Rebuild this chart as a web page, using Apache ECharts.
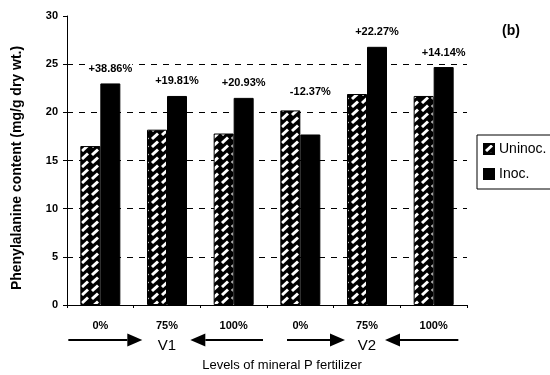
<!DOCTYPE html>
<html>
<head>
<meta charset="utf-8">
<script src="https://cdn.jsdelivr.net/npm/echarts@6/dist/echarts.min.js"></script>
<style>
  html, body { margin: 0; padding: 0; background: #fff; }
  #chart { width: 550px; height: 375px; }
</style>
</head>
<body>
<div id="chart"></div>
<script>
// Fertilizer levels per variety (three per variety)
const categories = ['0%', '75%', '100%', '0%', '75%', '100%'];
const varieties = ['V1', 'V2'];
// Phenylalanine content, mg/g dry wt.
const uninoc = [16.5, 18.2, 17.8, 20.2, 21.9, 21.7];
const inoc = [23.0, 21.7, 21.5, 17.7, 26.8, 24.7];
// Change of inoculated vs. uninoculated
const changeLabels = ['+38.86%', '+19.81%', '+20.93%', '-12.37%', '+22.27%', '+14.14%'];
const yTicks = [0, 5, 10, 15, 20, 25, 30];
const yAxisTitle = 'Phenylalanine content (mg/g dry wt.)';
const xAxisTitle = 'Levels of mineral P fertilizer';

const FONT = 'Liberation Sans, Arial, sans-serif';
const GRID = { left: 67, right: 83, top: 16, bottom: 70 };
const Y_MAX = 30;
const pxPerUnit = (375 - GRID.top - GRID.bottom) / Y_MAX;

// Hatched fill: white slanted dashes on black, staggered in two columns
function makeHatch() {
  const c = document.createElement('canvas');
  c.width = 20; c.height = 8;
  const ctx = c.getContext('2d');
  ctx.fillStyle = '#000';
  ctx.fillRect(0, 0, 20, 8);
  ctx.strokeStyle = '#fff';
  ctx.lineWidth = 3;
  ctx.lineCap = 'butt';
  const seg = (x1, y1, x2, y2) => { ctx.beginPath(); ctx.moveTo(x1, y1); ctx.lineTo(x2, y2); ctx.stroke(); };
  seg(2, 7, 8, 1.5);
  seg(2, 15, 8, 9.5);
  seg(2, -1, 8, -6.5);
  seg(12, 11, 18, 5.5);
  seg(12, 3, 18, -2.5);
  return c;
}
const hatch = { image: makeHatch(), repeat: 'repeat' };

const inocData = inoc.map((v, i) => {
  const item = { value: v };
  if (uninoc[i] > v) {
    // keep the label clear of the taller neighbouring bar
    item.label = { offset: [0, -(uninoc[i] - v) * pxPerUnit - 4] };
  }
  return item;
});

const chart = echarts.init(document.getElementById('chart'), null, { renderer: 'canvas' });

chart.setOption({
  animation: false,
  backgroundColor: '#fff',
  textStyle: { fontFamily: FONT, color: '#000' },
  grid: GRID,
  legend: {
    orient: 'vertical',
    left: 477,
    top: 135,
    icon: 'rect',
    itemWidth: 10,
    itemHeight: 10,
    itemGap: 11,
    padding: [7, 40, 8, 6],
    borderColor: '#000',
    borderWidth: 1,
    textStyle: { fontFamily: FONT, fontSize: 14, color: '#000' },
    data: ['Uninoc.', 'Inoc.']
  },
  xAxis: {
    type: 'category',
    data: categories,
    axisLine: { lineStyle: { color: '#000', width: 1 } },
    axisTick: { show: true, length: 3, lineStyle: { color: '#000' } },
    axisLabel: { margin: 15, fontFamily: FONT, fontSize: 11, fontWeight: 'bold', color: '#000' }
  },
  yAxis: {
    type: 'value',
    min: 0,
    max: Y_MAX,
    interval: 5,
    axisLine: { show: true, lineStyle: { color: '#000', width: 1 } },
    axisTick: { show: true, length: 4, lineStyle: { color: '#000' } },
    axisLabel: {
      margin: 9, fontFamily: FONT, fontSize: 11, fontWeight: 'bold', color: '#000',
      formatter: v => (yTicks.includes(v) ? String(v) : '')
    },
    splitLine: {
      show: true,
      showMinLine: false,
      showMaxLine: false,
      lineStyle: { color: '#000', type: [6, 6], width: 1 }
    }
  },
  series: [
    {
      name: 'Uninoc.',
      type: 'bar',
      data: uninoc,
      barGap: '0%',
      barCategoryGap: '40%',
      itemStyle: { color: hatch, borderColor: '#000', borderWidth: 1 }
    },
    {
      name: 'Inoc.',
      type: 'bar',
      data: inocData,
      itemStyle: { color: '#000', borderColor: '#000', borderWidth: 1 },
      label: {
        show: true,
        position: 'top',
        distance: 9,
        fontFamily: FONT,
        fontSize: 11,
        fontWeight: 'bold',
        color: '#000',
        backgroundColor: '#fff',
        formatter: p => changeLabels[p.dataIndex]
      }
    }
  ]
});

// Titles and variety annotations: arrows pointing at V1 / V2 below the axis
function drawAnnotations() {
  const cx = i => chart.convertToPixel({ xAxisIndex: 0 }, i);
  const w = cx(1) - cx(0);
  const yArrow = 340;
  const arrow = (x1, x2) => {
    const dir = x2 > x1 ? 1 : -1;
    const head = 15;
    return [
      {
        type: 'line',
        shape: { x1: x1, y1: yArrow, x2: x2 - dir * head, y2: yArrow },
        style: { stroke: '#000', lineWidth: 2 }
      },
      {
        type: 'polygon',
        shape: { points: [[x2, yArrow], [x2 - dir * head, yArrow - 6.5], [x2 - dir * head, yArrow + 6.5]] },
        style: { fill: '#000' }
      }
    ];
  };
  const els = [];
  // V1 spans groups 0..2, V2 spans groups 3..5
  [0, 1].forEach(k => {
    const first = k * 3, mid = k * 3 + 1, last = k * 3 + 2;
    const leftStart = k === 0 ? cx(first) - 0.48 * w : cx(first) - 0.2 * w;
    const leftEnd = k === 0 ? cx(mid) - 0.37 * w : cx(mid) - 0.33 * w;
    const rightStart = k === 0 ? cx(last) + 0.44 * w : cx(last) + 0.37 * w;
    const rightEnd = k === 0 ? cx(mid) + 0.35 * w : cx(mid) + 0.27 * w;
    els.push(...arrow(leftStart, leftEnd));
    els.push(...arrow(rightStart, rightEnd));
    els.push({
      type: 'text',
      x: cx(mid),
      y: 346,
      style: { text: varieties[k], fontFamily: FONT, fontSize: 15, fill: '#000', align: 'center', verticalAlign: 'middle' }
    });
  });
  els.push({
    type: 'text',
    x: 282,
    y: 365,
    style: { text: xAxisTitle, fontFamily: FONT, fontSize: 13, fill: '#000', align: 'center', verticalAlign: 'middle' }
  });
  els.push({
    type: 'text',
    x: 17,
    y: 168,
    rotation: Math.PI / 2,
    style: { text: yAxisTitle, fontFamily: FONT, fontSize: 14, fontWeight: 'bold', fill: '#000', align: 'center', verticalAlign: 'middle' }
  });
  els.push({
    type: 'text',
    x: 511,
    y: 31,
    style: { text: '(b)', fontFamily: FONT, fontSize: 14, fontWeight: 'bold', fill: '#000', align: 'center', verticalAlign: 'middle' }
  });
  chart.setOption({ graphic: { elements: els } });
}
drawAnnotations();
</script>
</body>
</html>
